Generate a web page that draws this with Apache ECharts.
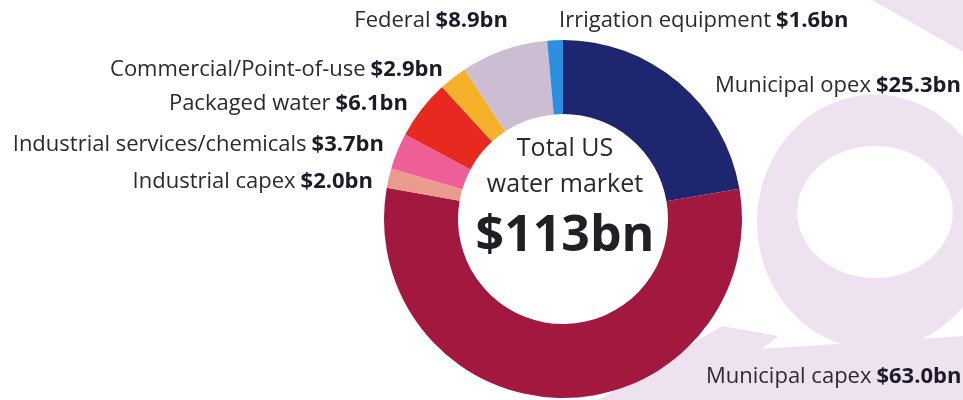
<!DOCTYPE html>
<html>
<head>
<meta charset="utf-8">
<script src="https://cdn.jsdelivr.net/npm/echarts@6/dist/echarts.min.js"></script>
<style>
  html, body { margin: 0; padding: 0; background: #ffffff; }
  #chart { width: 963px; height: 400px; }
</style>
</head>
<body>
<div id="chart"></div>
<script>
// Segments of the US water market, clockwise from 12 o'clock ($bn)
const categories = [
  'Municipal opex',
  'Municipal capex',
  'Industrial capex',
  'Industrial services/chemicals',
  'Packaged water',
  'Commercial/Point-of-use',
  'Federal',
  'Irrigation equipment'
];
const values = [25.3, 63.0, 2.0, 3.7, 6.1, 2.9, 8.9, 1.6];
const totalLabel = '$113bn';

const colors = ['#1f2670', '#a2183e', '#eb9a8e', '#ef5e96', '#e8291f', '#f6b12a', '#cdbdd3', '#2b8fe2'];

// Label anchor for each segment: [x, y, align]
const labelAnchors = [
  [715, 86, 'left'],
  [706, 377, 'left'],
  [373, 182, 'right'],
  [384, 145, 'right'],
  [408, 104, 'right'],
  [443, 70, 'right'],
  [508, 21, 'right'],
  [559, 21, 'left']
];

const FONT = '"Open Sans", sans-serif';
const WM = '#efe2f0';

const chart = echarts.init(document.getElementById('chart'), null, { renderer: 'canvas' });

chart.setOption({
  backgroundColor: '#ffffff',
  animation: false,
  graphic: [
    // faint lettering in the background
    { type: 'polygon', z: 0, shape: { points: [[872, 0], [963, 0], [963, 52]] }, style: { fill: WM } },
    { type: 'polygon', z: 0, shape: { points: [[598, 400], [722, 326], [778, 336], [700, 400]] }, style: { fill: WM } },
    { type: 'polygon', z: 0, shape: { points: [[700, 400], [742, 350], [963, 336], [963, 400]] }, style: { fill: WM } },
    { type: 'circle', z: 0, x: 875, y: 222, scaleX: 1.0, scaleY: 1.08, shape: { cx: 0, cy: 0, r: 118 }, style: { fill: WM } },
    { type: 'circle', z: 1, x: 875, y: 212, scaleX: 1.18, scaleY: 1.0, shape: { cx: 0, cy: 0, r: 66 }, style: { fill: '#ffffff' } },
    // centre caption
    { type: 'text', z: 100, x: 565, y: 149, style: { text: 'Total US', font: '25px ' + FONT, fill: '#2a2a2a', textAlign: 'center', textVerticalAlign: 'middle' } },
    { type: 'text', z: 100, x: 565, y: 185, style: { text: 'water market', font: '25px ' + FONT, fill: '#2a2a2a', textAlign: 'center', textVerticalAlign: 'middle' } },
    { type: 'text', z: 100, x: 565, y: 237, style: { text: totalLabel, font: 'bold 50px ' + FONT, fill: '#1f1f26', textAlign: 'center', textVerticalAlign: 'middle' } }
  ],
  series: [{
    type: 'pie',
    z: 2,
    center: [563, 219],
    radius: [105, 179],
    startAngle: 90,
    clockwise: true,
    avoidLabelOverlap: false,
    silent: true,
    itemStyle: { borderWidth: 0 },
    data: categories.map((name, i) => ({ name, value: values[i], itemStyle: { color: colors[i] } })),
    label: {
      show: true,
      position: 'outside',
      formatter: p => '{n|' + p.name + '}{v|$' + p.value.toFixed(1) + 'bn}',
      rich: {
        n: { fontFamily: FONT, fontSize: 22, color: '#2b2b2b' },
        v: { fontFamily: FONT, fontSize: 22, fontWeight: 'bold', color: '#1c1c28', padding: [0, 0, 0, 5] }
      }
    },
    labelLine: { show: false },
    labelLayout: p => {
      const a = labelAnchors[p.dataIndex];
      return { x: a[0], y: a[1], align: a[2], verticalAlign: 'middle' };
    }
  }]
});
</script>
</body>
</html>
